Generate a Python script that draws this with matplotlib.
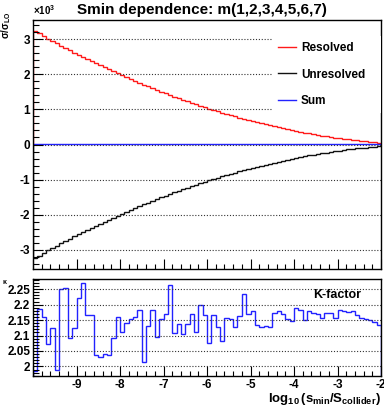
import numpy as np
import matplotlib
matplotlib.use("Agg")
import matplotlib.pyplot as plt
from matplotlib.ticker import MultipleLocator, FuncFormatter

plt.rcParams['font.family'] = ['Liberation Sans', 'DejaVu Sans']
plt.rcParams['font.weight'] = 'bold'
plt.rcParams['mathtext.fontset'] = 'custom'
plt.rcParams['mathtext.rm'] = 'Liberation Sans:bold'
plt.rcParams['mathtext.it'] = 'Liberation Sans:bold'
plt.rcParams['mathtext.bf'] = 'Liberation Sans:bold'

# binning of log10(s_min/S_collider)
xmin, xmax, nbins = -10, -2, 80
edges = np.linspace(xmin, xmax, nbins + 1)

# sigma / sigma_LO per bin
resolved = [3250, 3170, 3084, 3016, 2948, 2882, 2816, 2751, 2686, 2623,
            2560, 2498, 2436, 2376, 2316, 2257, 2198, 2141, 2084, 2028,
            1972, 1918, 1864, 1811, 1759, 1707, 1657, 1607, 1557, 1509,
            1461, 1414, 1368, 1323, 1278, 1234, 1191, 1149, 1107, 1066,
            1026, 987, 948, 910, 873, 837, 801, 767, 733, 699,
            667, 635, 604, 574, 544, 516, 488, 461, 434, 409,
            384, 360, 336, 314, 292, 271, 250, 231, 212, 194,
            176, 160, 144, 129, 115, 101, 89, 77, 65, 55]
unresolved = [-3248, -3168, -3082, -3014, -2946, -2880, -2814, -2749, -2684, -2621,
              -2558, -2496, -2434, -2374, -2314, -2255, -2196, -2139, -2082, -2026,
              -1970, -1916, -1862, -1809, -1757, -1705, -1655, -1605, -1555, -1507,
              -1459, -1412, -1366, -1321, -1276, -1232, -1189, -1147, -1105, -1064,
              -1024, -985, -946, -908, -871, -835, -799, -765, -731, -697,
              -665, -633, -602, -572, -542, -514, -486, -459, -432, -407,
              -382, -358, -334, -312, -290, -269, -248, -229, -210, -192,
              -174, -158, -142, -127, -113, -99, -87, -75, -63, -53]
kfactor = [1.985, 2.185, 2.161, 2.071, 2.123, 1.990, 2.252, 2.254, 2.091, 2.126,
           2.221, 2.269, 2.166, 2.166, 2.037, 2.032, 2.039, 2.036, 2.092, 2.160,
           2.111, 2.142, 2.153, 2.161, 2.184, 2.014, 2.131, 2.184, 2.095, 2.153,
           2.169, 2.263, 2.107, 2.136, 2.104, 2.136, 2.169, 2.111, 2.198, 2.165,
           2.077, 2.166, 2.129, 2.081, 2.158, 2.153, 2.128, 2.164, 2.234, 2.169,
           2.181, 2.134, 2.128, 2.130, 2.128, 2.173, 2.181, 2.169, 2.153, 2.147,
           2.188, 2.182, 2.149, 2.179, 2.174, 2.171, 2.158, 2.172, 2.172, 2.156,
           2.184, 2.180, 2.176, 2.180, 2.166, 2.156, 2.155, 2.149, 2.144, 2.133]

W, H = 384, 407
fig = plt.figure(figsize=(W / 100, H / 100), dpi=100)

def box(l, t, r, b):
    return [l / W, 1 - b / H, (r - l) / W, (b - t) / H]

ax1 = fig.add_axes(box(33, 20, 381, 269))
ax2 = fig.add_axes(box(33, 279, 381, 376))

red, black, blue = '#ff1a1a', '#111111', '#2222ff'
dots = (0, (1, 1.6))

# top pad
ax1.stairs(resolved, edges, color=red, lw=1.0, label='Resolved')
ax1.stairs(unresolved, edges, color=black, lw=1.0, label='Unresolved')
ax1.stairs(kfactor, edges, color=blue, lw=1.0, label='Sum')
ax1.set_xlim(xmin, xmax)
ax1.set_ylim(-3550, 3550)
ax1.yaxis.set_major_locator(MultipleLocator(1000))
ax1.yaxis.set_minor_locator(MultipleLocator(200))
ax1.yaxis.set_major_formatter(FuncFormatter(lambda v, p: '%d' % round(v / 1000)))
ax1.set_xticklabels([])
ax1.grid(axis='y', color='#333333', lw=0.8, ls=dots)
leg = ax1.legend(loc='upper left', bbox_to_anchor=(0.687, 0.936, 0.313, 0.0),
                 mode='expand', borderaxespad=0, frameon=True, fancybox=False,
                 facecolor='white', edgecolor='none', framealpha=1,
                 fontsize=8.5, handlelength=1.5, handletextpad=0.45,
                 labelspacing=1.25, borderpad=0.5)
fig.text(33 / W, 1 - 15 / H, r'$\times10^{3}$', fontsize=7, ha='left', va='baseline')
fig.text(6 / W, 1 - 12 / H, r'$\sigma/\sigma_{LO}$', fontsize=7, rotation=90,
         ha='center', va='top')

# bottom pad
ax2.stairs(kfactor, edges, color=blue, lw=1.0)
ax2.set_xlim(xmin, xmax)
ax2.set_ylim(1.969, 2.283)
ax2.yaxis.set_major_locator(MultipleLocator(0.05))
ax2.yaxis.set_minor_locator(MultipleLocator(0.01))
ax2.yaxis.set_major_formatter(FuncFormatter(lambda v, p: ('%.2f' % v).rstrip('0').rstrip('.')))
ax2.xaxis.set_major_formatter(FuncFormatter(lambda v, p: '' if v <= xmin else '%d' % v))
ax2.grid(axis='y', color='#333333', lw=0.8, ls=dots)
ax2.text(0.943, 0.83, 'K-factor', transform=ax2.transAxes, fontsize=9,
         ha='right', va='center')
fig.text(5 / W, 1 - 282 / H, r'$\kappa$', fontsize=5, ha='center', va='center')
ax2.set_xlabel(r'$\log_{10}(s_{min}/S_{collider})$', fontsize=9.5, loc='right',
               labelpad=0.5)

for ax in (ax1, ax2):
    ax.xaxis.set_major_locator(MultipleLocator(1))
    ax.xaxis.set_minor_locator(MultipleLocator(0.2))
    ax.tick_params(which='both', direction='in', top=False, right=False)
    ax.tick_params(which='major', length=7, width=0.8, labelsize=8.5, pad=2)
    ax.tick_params(which='minor', length=3.5, width=0.8)
    ax.tick_params(axis='y', which='minor', length=4)
    for s in ax.spines.values():
        s.set_linewidth(1.0)

fig.suptitle('Smin dependence: m(1,2,3,4,5,6,7)', fontsize=11, fontweight='bold',
             x=202 / W, y=1 - 10 / H, va='center')

fig.savefig('out.png', dpi=100)
